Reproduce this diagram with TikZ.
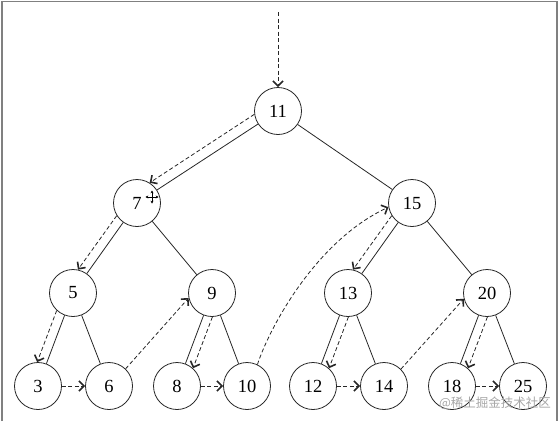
\documentclass[tikz,border=0pt]{standalone}
\usepackage{fontspec}
\setmainfont{Liberation Serif}
\newfontfamily\cjkfont{Noto Sans CJK SC}
\usetikzlibrary{arrows.meta}
\begin{document}
\begin{tikzpicture}[x=1pt,y=1pt,
  tn/.style={circle, draw=black!85, line width=0.8pt, minimum size=47pt, inner sep=0pt, font=\fontsize{18.5}{18.5}\selectfont},
  edge/.style={draw=black!85, line width=0.8pt},
  trav/.style={draw=black!85, line width=0.8pt, dash pattern=on 4pt off 2.5pt,
    -{Straight Barb[length=5pt,width=10pt,line width=1.6pt]}},
  cur/.style={line width=0.6pt, -{Stealth[length=2.8pt,width=3pt]}},
]
\useasboundingbox (0,0) rectangle (559,-421);
\draw[gray, line width=1.5pt] (2,-421) -- (2,-1.5) -- (557,-1.5) -- (557,-421);

% nodes
\node[tn] (n11) at (278,-111) {11};
\node[tn] (n7)  at (137,-203) {7};
\node[tn] (n15) at (412,-203) {15};
\node[tn] (n5)  at (73,-293)  {5};
\node[tn] (n9)  at (212,-293) {9};
\node[tn] (n13) at (348,-293) {13};
\node[tn] (n20) at (487,-293) {20};
\node[tn] (n3)  at (38,-386)  {3};
\node[tn] (n6)  at (109,-386) {6};
\node[tn] (n8)  at (177,-386) {8};
\node[tn] (n10) at (247,-386) {10};
\node[tn] (n12) at (313,-386) {12};
\node[tn] (n14) at (384,-386) {14};
\node[tn] (n18) at (452,-386) {18};
\node[tn] (n25) at (523,-386) {25};

% tree edges
\draw[edge] (n11) -- (n7);
\draw[edge] (n11) -- (n15);
\draw[edge] (n7) -- (n5);
\draw[edge] (n7) -- (n9);
\draw[edge] (n15) -- (n13);
\draw[edge] (n15) -- (n20);
\draw[edge] (n5) -- (n3);
\draw[edge] (n5) -- (n6);
\draw[edge] (n9) -- (n8);
\draw[edge] (n9) -- (n10);
\draw[edge] (n13) -- (n12);
\draw[edge] (n13) -- (n14);
\draw[edge] (n20) -- (n18);
\draw[edge] (n20) -- (n25);

% traversal
\coordinate (start) at (278,-12);
\draw[trav] (start) -- (n11.north);
\draw[trav] (n11.188) -- (n7.58);
\draw[trav] (n7.212) -- (n5.78);
\draw[trav] (n5.227) -- (n3.92);
\draw[trav] (n3.east) -- (n6.west);
\draw[trav] (n6.46) -- (n9.192);
\draw[trav] (n9.271) -- (n8.48);
\draw[trav] (n8.east) -- (n10.west);
\draw[trav] (n10.64) .. controls +(10,32) and +(-75,-35) .. (n15.190);
\draw[trav] (n15.212) -- (n13.78);
\draw[trav] (n13.271) -- (n12.48);
\draw[trav] (n12.east) -- (n14.west);
\draw[trav] (n14.45) -- (n20.194);
\draw[trav] (n20.271) -- (n18.48);
\draw[trav] (n18.east) -- (n25.west);

% mouse cursor
\coordinate (cc) at (152,-197);
\draw[cur] (cc) -- ++(0,6.5);
\draw[cur] (cc) -- ++(0,-6.5);
\draw[cur] (cc) -- ++(6.5,0);
\draw[cur] (cc) -- ++(-6.5,0);

% watermark
\node[text=black!35, font=\cjkfont\fontsize{12.5}{13}\selectfont, inner sep=0pt] (wm) at (495,-403) {@稀土掘金技术社区};
\end{tikzpicture}
\end{document}
